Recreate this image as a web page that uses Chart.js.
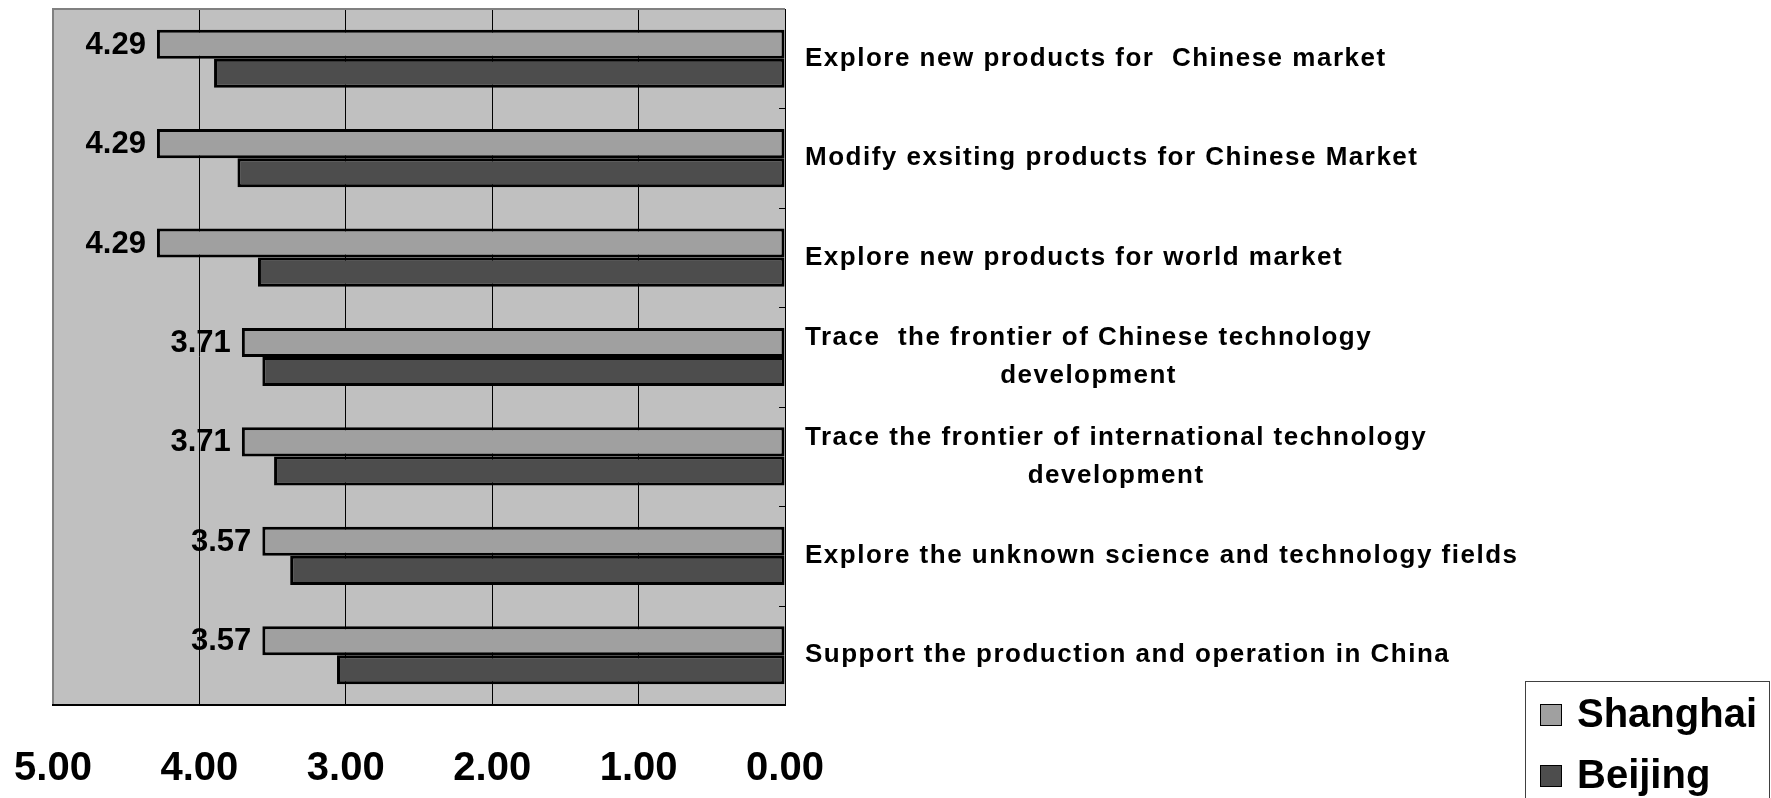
<!DOCTYPE html>
<html>
<head>
<meta charset="utf-8">
<script src="https://cdn.jsdelivr.net/npm/chart.js@4.4.0/dist/chart.umd.min.js"></script>
<style>
  html, body { margin: 0; padding: 0; background: #fff; }
  #wrap { width: 1771px; height: 798px; }
</style>
</head>
<body>
<div id="wrap"><canvas id="chart" width="1771" height="798"></canvas></div>
<script>
const categories = [
  ["Explore new products for  Chinese market"],
  ["Modify exsiting products for Chinese Market"],
  ["Explore new products for world market"],
  ["Trace  the frontier of Chinese technology", "development"],
  ["Trace the frontier of international technology", "development"],
  ["Explore the unknown science and technology fields"],
  ["Support the production and operation in China"]
];
const shanghai = [4.29, 4.29, 4.29, 3.71, 3.71, 3.57, 3.57];
const beijing = [3.90, 3.74, 3.60, 3.57, 3.49, 3.38, 3.06];
const seriesNames = ["Shanghai", "Beijing"];
const xMin = 0, xMax = 5, xStep = 1;

const arial = "'Liberation Sans', Arial, sans-serif";

// grey plot area behind grid
const plotBg = {
  id: 'plotBg',
  beforeDraw(chart) {
    const {ctx, chartArea: a} = chart;
    ctx.save();
    ctx.fillStyle = '#c0c0c0';
    ctx.fillRect(a.left, a.top, a.right - a.left, a.bottom - a.top);
    ctx.restore();
  }
};

const overlay = {
  id: 'overlay',
  afterDatasetsDraw(chart) {
    const {ctx, chartArea: a} = chart;
    const y = chart.scales.y;
    ctx.save();
    // top border
    ctx.strokeStyle = '#808080';
    ctx.lineWidth = 2;
    ctx.beginPath();
    ctx.moveTo(a.left - 1, a.top);
    ctx.lineTo(a.right, a.top);
    ctx.stroke();
    // small ticks on the value-zero side
    ctx.strokeStyle = '#000';
    ctx.lineWidth = 1;
    for (let i = 0; i < categories.length - 1; i++) {
      const py = Math.round(y.getPixelForValue(i + 0.5)) + 0.5;
      ctx.beginPath();
      ctx.moveTo(a.right - 6, py);
      ctx.lineTo(a.right, py);
      ctx.stroke();
    }
    // value labels on shanghai bars
    const meta = chart.getDatasetMeta(0);
    ctx.fillStyle = '#000';
    ctx.font = 'bold 31px ' + arial;
    ctx.textAlign = 'right';
    ctx.textBaseline = 'middle';
    meta.data.forEach((bar, i) => {
      ctx.fillText(shanghai[i].toFixed(2), bar.x - 11, bar.y + 1);
    });
    ctx.restore();
  },
  afterDraw(chart) {
    const {ctx, chartArea: a} = chart;
    const y = chart.scales.y;
    ctx.save();
    // category labels to the right of the plot
    ctx.fillStyle = '#000';
    ctx.font = 'bold 26px ' + arial;
    ctx.letterSpacing = '1.5px';
    ctx.textAlign = 'left';
    ctx.textBaseline = 'middle';
    const lh = 38;
    categories.forEach((lines, i) => {
      const cy = y.getPixelForValue(i);
      const widths = lines.map(l => ctx.measureText(l).width);
      const maxW = Math.max(...widths);
      lines.forEach((l, k) => {
        const ty = cy + (k - (lines.length - 1) / 2) * lh;
        ctx.fillText(l, a.right + 20 + (maxW - widths[k]) / 2, ty);
      });
    });
    ctx.letterSpacing = '0px';
    // legend
    ctx.strokeStyle = '#404040';
    ctx.lineWidth = 1;
    ctx.strokeRect(1525.5, 681.5, 244, 140);
    ctx.font = 'bold 40px ' + arial;
    chart.data.datasets.forEach((ds, k) => {
      const cy = 715 + k * 61;
      ctx.fillStyle = ds.backgroundColor;
      ctx.fillRect(1540, cy - 11, 22, 22);
      ctx.strokeStyle = '#000';
      ctx.strokeRect(1540.5, cy - 10.5, 21, 21);
      ctx.fillStyle = '#000';
      ctx.fillText(ds.label, 1577, cy + 1);
    });
    ctx.restore();
  }
};

new Chart(document.getElementById('chart'), {
  type: 'bar',
  data: {
    labels: categories,
    datasets: [
      { label: seriesNames[0], data: shanghai, backgroundColor: '#a0a0a0', borderColor: '#000',
        borderWidth: 3, borderSkipped: false, categoryPercentage: 0.585, barPercentage: 1.0 },
      { label: seriesNames[1], data: beijing, backgroundColor: '#4d4d4d', borderColor: '#000',
        borderWidth: 3, borderSkipped: false, categoryPercentage: 0.585, barPercentage: 1.0 }
    ]
  },
  options: {
    indexAxis: 'y',
    responsive: false,
    animation: false,
    layout: { padding: { left: 53, top: 9, right: 0, bottom: 0 } },
    scales: {
      x: {
        min: xMin, max: xMax, reverse: true, position: 'bottom',
        ticks: {
          stepSize: xStep, padding: 40, color: '#000', maxRotation: 0, autoSkip: false,
          font: { family: arial, size: 40, weight: 'bold' },
          callback: v => Number(v).toFixed(2)
        },
        grid: {
          drawTicks: false,
          color: c => (c.tick && c.tick.value === xMax) ? '#808080' : '#000',
          lineWidth: c => (c.tick && c.tick.value === xMax) ? 2 : 1
        },
        border: { color: '#000', width: 2 },
        afterFit: s => { s.height = 93; s.paddingLeft = 0; s.paddingRight = 0; }
      },
      y: {
        position: 'right',
        ticks: { display: false },
        grid: { display: false },
        border: { display: true, color: '#000', width: 1 },
        afterFit: s => { s.width = 986; }
      }
    },
    plugins: { legend: { display: false }, tooltip: { enabled: false } }
  },
  plugins: [plotBg, overlay]
});
</script>
</body>
</html>
